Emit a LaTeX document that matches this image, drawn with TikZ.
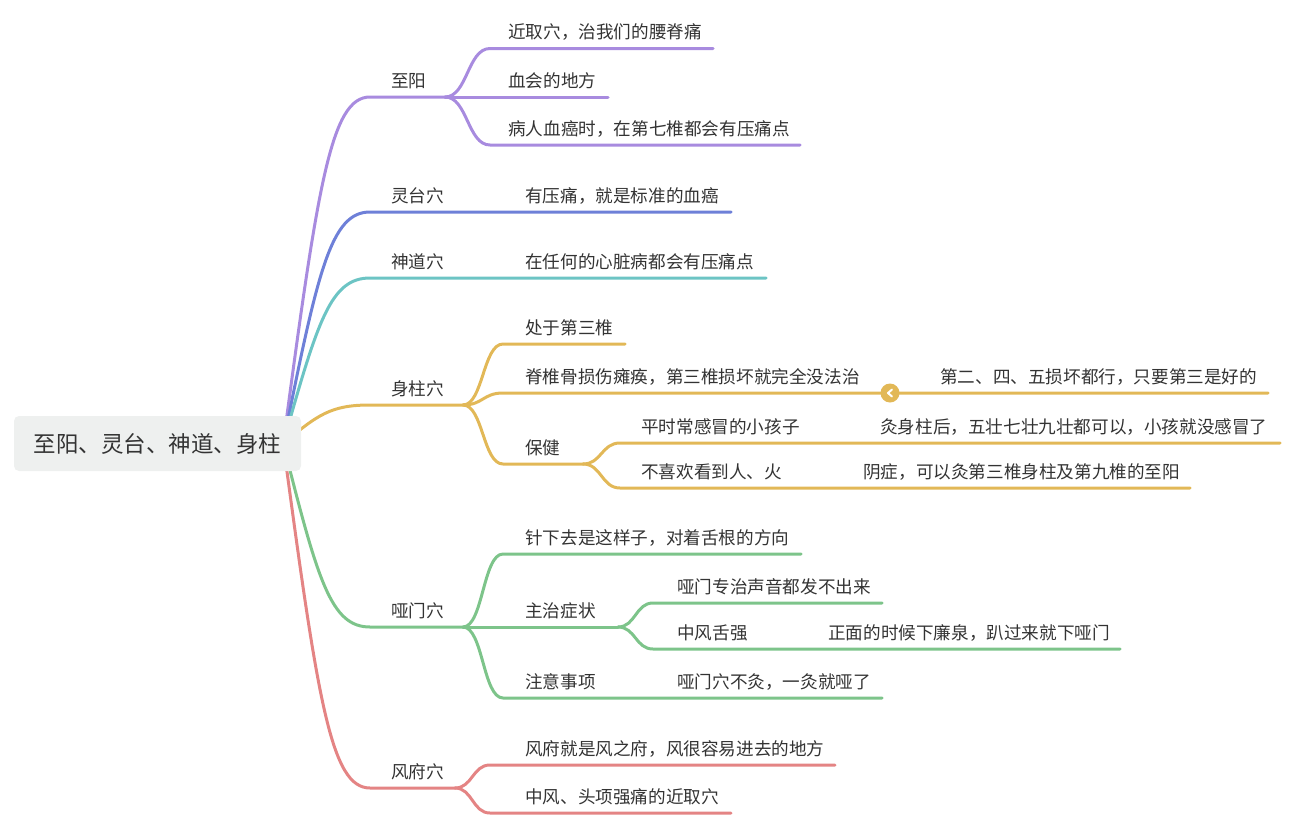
\documentclass[tikz,border=0pt]{standalone}
\usepackage{fontspec}
\setmainfont{Noto Sans CJK SC}
\usetikzlibrary{calc}
\pgfdeclarelayer{background}
\pgfsetlayers{background,main}
\definecolor{cpur}{HTML}{A88BDF}
\definecolor{cblu}{HTML}{6E80D8}
\definecolor{ctea}{HTML}{6CC4C4}
\definecolor{cyel}{HTML}{E2B857}
\definecolor{cgrn}{HTML}{7DC48A}
\definecolor{cred}{HTML}{E48484}
\definecolor{ctxt}{HTML}{333333}
\definecolor{crootbg}{HTML}{EEF0EF}
\tikzset{
  rootbox/.style={draw=none, fill=crootbg, rounded corners=5pt, minimum width=287pt, minimum height=55pt, inner sep=0pt, text=ctxt, font=\fontsize{22.5}{26}\selectfont},
  topic/.style={anchor=base west, inner sep=0pt, text=ctxt, font=\fontsize{17.6}{20}\selectfont},
  branch/.style={line width=3pt, line cap=round, line join=round},
  rootcurve/.style={to path={let \p1=(\tikztostart),\p2=(\tikztotarget) in .. controls ({\x1+0.4*(\x2-\x1)},{\y1+0.75*(\y2-\y1)}) and ({\x1+0.55*(\x2-\x1)},\y2) .. (\tikztotarget)}},
  scurve/.style={to path={let \p1=(\tikztostart),\p2=(\tikztotarget) in .. controls ({0.5*\x1+0.5*\x2},\y1) and ({0.5*\x1+0.5*\x2},\y2) .. (\tikztotarget)}},
}
\begin{document}
\begin{tikzpicture}[x=1pt,y=-1pt]
\useasboundingbox (0,0) rectangle (1298,830);

% root
\node[rootbox] (root) at (157.5,443.5) {至阳、灵台、神道、身柱};
\coordinate (hub) at ([xshift=-18pt]root.east);

% level 1 texts
\node[topic] (zy) at (391,87) {至阳};
\node[topic] (lt) at (391,202) {灵台穴};
\node[topic] (sd) at (391,268) {神道穴};
\node[topic] (sz) at (391,395) {身柱穴};
\node[topic] (ym) at (391,617) {哑门穴};
\node[topic] (ff) at (391,778) {风府穴};

% level 2+ texts
\node[topic] (zy1) at (508,38.5) {近取穴，治我们的腰脊痛};
\node[topic] (zy2) at (508,87) {血会的地方};
\node[topic] (zy3) at (508,135) {病人血癌时，在第七椎都会有压痛点};
\node[topic] (lt1) at (525,202) {有压痛，就是标准的血癌};
\node[topic] (sd1) at (525,268) {在任何的心脏病都会有压痛点};
\node[topic] (sz1) at (525,334) {处于第三椎};
\node[topic] (sz2) at (525,383) {脊椎骨损伤瘫痪，第三椎损坏就完全没法治};
\node[topic] (sz2a) at (940,383) {第二、四、五损坏都行，只要第三是好的};
\node[topic] (sz3) at (525,454) {保健};
\node[topic] (sz31) at (641,433) {平时常感冒的小孩子};
\node[topic] (sz31a) at (880,433) {灸身柱后，五壮七壮九壮都可以，小孩就没感冒了};
\node[topic] (sz32) at (641,478) {不喜欢看到人、火};
\node[topic] (sz32a) at (863,478) {阴症，可以灸第三椎身柱及第九椎的至阳};
\node[topic] (ym1) at (525,544) {针下去是这样子，对着舌根的方向};
\node[topic] (ym2) at (525,617) {主治症状};
\node[topic] (ym21) at (677,593) {哑门专治声音都发不出来};
\node[topic] (ym22) at (677,639) {中风舌强};
\node[topic] (ym22a) at (828,639) {正面的时候下廉泉，趴过来就下哑门};
\node[topic] (ym3) at (525,688) {注意事项};
\node[topic] (ym3a) at (677,688) {哑门穴不灸，一灸就哑了};
\node[topic] (ff1) at (525,755) {风府就是风之府，风很容易进去的地方};
\node[topic] (ff2) at (525,803) {中风、头项强痛的近取穴};

% line coordinates
\coordinate (zy-s) at (370,97);   \coordinate (zy-p) at (445,97);
\coordinate (zy1-s) at (490,48.5); \coordinate (zy1-e) at (713,48.5);
\coordinate (zy2-e) at (608,97);
\coordinate (zy3-s) at (490,145); \coordinate (zy3-e) at (800,145);
\coordinate (lt-s) at (370,212);  \coordinate (lt1-e) at (731,212);
\coordinate (sd-s) at (370,278);  \coordinate (sd1-e) at (766,278);
\coordinate (sz-s) at (370,405);  \coordinate (sz-p) at (463,405);
\coordinate (sz1-s) at (503,344); \coordinate (sz1-e) at (625,344);
\coordinate (sz2-s) at (503,393); \coordinate (sz2-e) at (1268,393);
\coordinate (sz3-s) at (503,464); \coordinate (sz3-p) at (583,464);
\coordinate (sz31-s) at (620,443); \coordinate (sz31-e) at (1280,443);
\coordinate (sz32-s) at (620,488); \coordinate (sz32-e) at (1190,488);
\coordinate (ym-s) at (370,627);  \coordinate (ym-p) at (463,627);
\coordinate (ym1-s) at (503,554); \coordinate (ym1-e) at (801,554);
\coordinate (ym2-p) at (618,627);
\coordinate (ym21-s) at (653,603); \coordinate (ym21-e) at (882,603);
\coordinate (ym22-s) at (653,649); \coordinate (ym22-e) at (1120,649);
\coordinate (ym3-s) at (503,698); \coordinate (ym3-e) at (882,698);
\coordinate (ff-s) at (370,788);  \coordinate (ff-p) at (455,788);
\coordinate (ff1-s) at (490,765); \coordinate (ff1-e) at (835,765);
\coordinate (ff2-s) at (490,813); \coordinate (ff2-e) at (731,813);

\begin{pgfonlayer}{background}
% purple
\draw[branch, cpur] (hub) to[rootcurve] (zy-s) -- (zy-p);
\draw[branch, cpur] (zy-p) to[scurve] (zy1-s) -- (zy1-e);
\draw[branch, cpur] (zy-p) -- (zy2-e);
\draw[branch, cpur] (zy-p) to[scurve] (zy3-s) -- (zy3-e);
% blue
\draw[branch, cblu] (hub) to[rootcurve] (lt-s) -- (lt1-e);
% teal
\draw[branch, ctea] (hub) to[rootcurve] (sd-s) -- (sd1-e);
% yellow
\draw[branch, cyel] (hub) to[rootcurve] (sz-s) -- (sz-p);
\draw[branch, cyel] (sz-p) to[scurve] (sz1-s) -- (sz1-e);
\draw[branch, cyel] (sz-p) to[scurve] (sz2-s) -- (sz2-e);
\draw[branch, cyel] (sz-p) to[scurve] (sz3-s) -- (sz3-p);
\draw[branch, cyel] (sz3-p) to[scurve] (sz31-s) -- (sz31-e);
\draw[branch, cyel] (sz3-p) to[scurve] (sz32-s) -- (sz32-e);
% green
\draw[branch, cgrn] (hub) to[rootcurve] (ym-s) -- (ym-p);
\draw[branch, cgrn] (ym-p) to[scurve] (ym1-s) -- (ym1-e);
\draw[branch, cgrn] (ym-p) -- (ym2-p);
\draw[branch, cgrn] (ym2-p) to[scurve] (ym21-s) -- (ym21-e);
\draw[branch, cgrn] (ym2-p) to[scurve] (ym22-s) -- (ym22-e);
\draw[branch, cgrn] (ym-p) to[scurve] (ym3-s) -- (ym3-e);
% red
\draw[branch, cred] (hub) to[rootcurve] (ff-s) -- (ff-p);
\draw[branch, cred] (ff-p) to[scurve] (ff1-s) -- (ff1-e);
\draw[branch, cred] (ff-p) to[scurve] (ff2-s) -- (ff2-e);
\end{pgfonlayer}

% collapse indicator
\node[circle, fill=cyel, minimum size=19pt, inner sep=0pt] (fold) at (890,393) {};
\draw[white, line width=2pt, line cap=round, line join=round] (fold.center) ++(2,-3.5) -- ++(-4,3.5) -- ++(4,3.5);
\end{tikzpicture}
\end{document}
